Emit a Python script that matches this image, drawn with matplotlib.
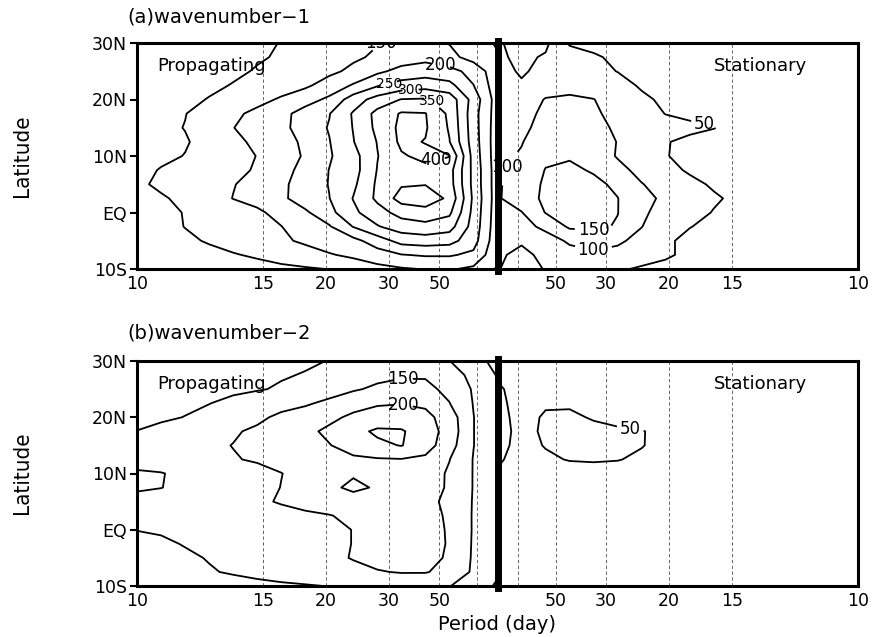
import numpy as np
import matplotlib
matplotlib.use('Agg')
import matplotlib.pyplot as plt
from matplotlib import font_manager as fm

plt.rcParams['font.family'] = ['DejaVu Sans']

F0 = 1 / 216.0  # frequency sitting on the centre line (cpd)
lat = np.array([30, 27.5, 25, 22.5, 20, 17.5, 15, 12.5, 10, 7.5, 5, 2.5, 0,
                -2.5, -5, -7.5, -10])
freq = np.linspace(F0, 0.1, 16)  # frequency bins, centre line -> 10 day

# power, rows 30N -> 10S ; propagating columns from 10-day to centre,
# stationary columns from centre to 10-day
wn1_prop = np.array([
    [65, 70, 75, 82, 88, 94, 101, 112, 124, 136, 148, 160, 158, 148, 120, 95],
    [68, 72, 78, 84, 90, 96, 104, 118, 130, 143, 157, 175, 185, 165, 130, 105],
    [70, 75, 80, 86, 93, 103, 117, 130, 140, 160, 190, 215, 225, 215, 185, 115],
    [72, 78, 85, 92, 102, 115, 128, 142, 170, 205, 245, 270, 280, 265, 201, 120],
    [75, 82, 90, 102, 116, 135, 156, 180, 210, 275, 320, 352, 355, 330, 230, 125],
    [80, 90, 99, 115, 140, 162, 185, 220, 248, 305, 365, 405, 402, 340, 220, 125],
    [82, 92, 101, 122, 149, 170, 185, 225, 253, 302, 362, 412, 405, 345, 222, 122],
    [80, 88, 97, 112, 138, 160, 183, 208, 248, 298, 352, 410, 398, 352, 225, 120],
    [85, 93, 101, 118, 135, 151, 178, 205, 245, 282, 348, 395, 412, 402, 230, 120],
    [90, 102, 115, 128, 140, 154, 183, 215, 251, 280, 352, 385, 388, 370, 235, 122],
    [92, 108, 122, 133, 148, 165, 190, 222, 252, 290, 358, 395, 398, 372, 235, 122],
    [85, 95, 110, 130, 151, 165, 190, 225, 249, 302, 360, 420, 430, 390, 240, 122],
    [78, 88, 102, 115, 128, 142, 165, 192, 235, 290, 330, 368, 380, 360, 235, 120],
    [75, 86, 101, 112, 124, 136, 149, 175, 195, 252, 296, 325, 335, 320, 230, 118],
    [70, 80, 92, 104, 116, 128, 142, 158, 175, 185, 225, 268, 275, 268, 220, 115],
    [65, 72, 80, 88, 97, 106, 118, 130, 146, 160, 178, 198, 205, 205, 190, 110],
    [60, 64, 68, 72, 78, 84, 90, 95, 101, 118, 135, 145, 152, 155, 140, 95],
])
wn1_stat = np.array([
    [95, 115, 110, 45, 38, 34, 32, 30, 30, 29, 28, 27, 26, 25, 25, 25],
    [92, 110, 95, 70, 55, 42, 38, 35, 33, 31, 30, 28, 27, 26, 25, 25],
    [85, 105, 88, 72, 62, 49, 42, 38, 35, 33, 31, 29, 28, 27, 26, 25],
    [80, 95, 92, 88, 80, 65, 45, 40, 37, 34, 32, 30, 28, 27, 26, 25],
    [80, 90, 101, 106, 101, 80, 58, 42, 38, 35, 33, 31, 29, 28, 27, 26],
    [82, 92, 105, 112, 106, 88, 66, 49, 42, 38, 35, 32, 30, 28, 27, 26],
    [85, 95, 108, 115, 110, 95, 78, 65, 58, 51, 42, 36, 32, 30, 28, 27],
    [90, 99, 112, 120, 115, 99, 75, 52, 42, 38, 35, 33, 31, 29, 28, 27],
    [95, 102, 140, 145, 130, 96, 72, 51, 44, 40, 37, 34, 32, 30, 28, 27],
    [95, 110, 152, 160, 145, 115, 85, 62, 45, 40, 37, 34, 32, 30, 28, 27],
    [95, 120, 158, 170, 162, 140, 102, 80, 60, 45, 38, 35, 32, 30, 28, 27],
    [95, 125, 160, 175, 170, 151, 115, 90, 70, 55, 42, 36, 33, 30, 28, 27],
    [96, 98, 152, 170, 168, 151, 108, 82, 64, 48, 40, 35, 32, 30, 28, 27],
    [95, 88, 108, 158, 160, 146, 101, 70, 51, 42, 37, 34, 31, 29, 28, 27],
    [98, 96, 85, 105, 118, 108, 85, 55, 42, 38, 35, 32, 30, 29, 28, 27],
    [95, 108, 92, 88, 92, 85, 68, 55, 42, 38, 35, 32, 30, 28, 27, 26],
    [98, 115, 98, 80, 65, 55, 45, 40, 37, 35, 33, 31, 29, 28, 27, 26],
])
wn2_prop = np.array([
    [60, 65, 70, 75, 80, 85, 90, 95, 101, 110, 120, 128, 128, 101, 62, 40],
    [62, 68, 74, 80, 86, 92, 97, 102, 112, 125, 138, 145, 146, 125, 85, 47],
    [65, 72, 80, 86, 92, 97, 104, 115, 130, 145, 158, 165, 160, 140, 95, 55],
    [72, 82, 92, 99, 110, 122, 133, 144, 160, 180, 195, 198, 190, 151, 98, 58],
    [85, 93, 101, 112, 125, 140, 160, 172, 188, 210, 220, 222, 215, 175, 101, 60],
    [101, 112, 122, 133, 145, 158, 172, 188, 210, 235, 258, 255, 225, 180, 101, 60],
    [108, 118, 130, 142, 151, 160, 170, 182, 198, 220, 240, 252, 222, 170, 101, 62],
    [120, 128, 134, 140, 147, 155, 165, 175, 185, 192, 196, 198, 190, 151, 98, 62],
    [160, 152, 140, 132, 128, 135, 149, 165, 180, 195, 190, 180, 170, 145, 98, 62],
    [158, 151, 138, 125, 122, 132, 151, 172, 190, 210, 195, 180, 168, 145, 98, 62],
    [130, 128, 125, 120, 125, 140, 155, 168, 175, 178, 175, 168, 160, 142, 97, 62],
    [115, 115, 115, 113, 116, 122, 130, 140, 148, 160, 165, 165, 160, 146, 96, 62],
    [101, 104, 108, 111, 114, 118, 124, 132, 140, 151, 158, 160, 158, 148, 96, 62],
    [88, 94, 102, 106, 110, 115, 122, 130, 140, 151, 160, 162, 160, 148, 95, 62],
    [78, 85, 94, 102, 108, 114, 122, 130, 142, 152, 160, 162, 160, 146, 94, 60],
    [70, 76, 84, 97, 104, 110, 116, 122, 130, 140, 148, 152, 152, 140, 92, 55],
    [62, 66, 72, 78, 84, 90, 94, 97, 101, 110, 120, 125, 122, 102, 70, 45],
])
wn2_stat = np.array([
    [42, 38, 35, 33, 31, 30, 29, 28, 27, 26, 25, 25, 24, 24, 23, 23],
    [47, 40, 36, 35, 33, 31, 30, 29, 28, 27, 26, 25, 24, 24, 23, 23],
    [53, 42, 40, 38, 36, 34, 32, 30, 29, 28, 27, 26, 25, 24, 24, 23],
    [54, 44, 48, 47, 42, 38, 36, 34, 32, 30, 28, 27, 26, 25, 24, 24],
    [56, 44, 52, 54, 48, 42, 38, 35, 33, 31, 29, 28, 27, 26, 25, 24],
    [58, 44, 53, 57, 56, 54, 51, 44, 40, 36, 32, 30, 28, 27, 26, 25],
    [56, 44, 51, 56, 56, 55, 51, 43, 38, 35, 32, 30, 28, 27, 26, 25],
    [53, 42, 47, 51, 52, 51, 46, 40, 36, 33, 31, 29, 28, 27, 26, 25],
    [48, 40, 40, 42, 42, 40, 38, 36, 34, 32, 30, 29, 28, 27, 26, 25],
    [45, 39, 38, 38, 37, 36, 35, 34, 33, 31, 30, 29, 28, 27, 26, 25],
    [44, 38, 37, 36, 35, 34, 33, 32, 31, 30, 29, 28, 27, 26, 25, 25],
    [43, 37, 36, 35, 34, 33, 32, 31, 30, 29, 28, 27, 26, 25, 25, 24],
    [42, 36, 35, 34, 33, 32, 31, 30, 29, 28, 27, 26, 25, 25, 24, 24],
    [42, 36, 34, 33, 32, 31, 30, 29, 28, 27, 26, 25, 25, 24, 24, 23],
    [43, 36, 34, 32, 31, 30, 29, 28, 27, 26, 25, 25, 24, 24, 23, 23],
    [44, 37, 34, 32, 30, 29, 28, 27, 26, 25, 25, 24, 24, 23, 23, 22],
    [46, 38, 35, 32, 30, 29, 28, 27, 26, 25, 24, 24, 23, 23, 22, 22],
])

levels = [50, 100, 150, 200, 250, 300, 350, 400, 450]
period_ticks = [10, 15, 20, 30, 50]
period_dash = [100, 50, 30, 20, 15]
lat_ticks = [30, 20, 10, 0, -10]
lat_labels = ['30N', '20N', '10N', 'EQ', '10S']

# contour labels: (level, x in shifted frequency, latitude, font size)
labels_a = [(150, -0.0257, 29.2, 12), (200, -0.0151, 25.6, 12),
            (250, -0.0288, 23.3, 10), (300, -0.0230, 21.9, 10),
            (350, -0.0172, 20.1, 10), (400, -0.0164, 9.2, 12),
            (100, 0.0048, 7.0, 12), (50, 0.0550, 16.4, 12),
            (150, 0.0254, -3.1, 12), (100, 0.0254, -6.6, 12)]
labels_b = [(150, -0.0249, 27.0, 12), (200, -0.0249, 22.2, 12),
            (50, 0.0352, 18.3, 12)]


def xpos(period, side):
    return side * (1.0 / period - F0)


def draw_side(ax, x, z, labels, side):
    for lev in levels:
        if not (z.min() < lev < z.max()):
            continue
        cs = ax.contour(x, lat, z, levels=[lev], colors='k', linewidths=1.3, zorder=3)
        for lv, lx, ly, fs in labels:
            if lv != lev or np.sign(lx) != side:
                continue
            ax.clabel(cs, manual=[(lx, ly)], inline=True, fmt='%d', fontsize=fs,
                      inline_spacing=3)
        for t in cs.labelTexts:
            t.set_rotation(0)
            t.set_clip_on(True)


def draw_panel(ax, prop, stat, labels):
    draw_side(ax, -(freq[::-1] - F0), prop, labels, -1)
    draw_side(ax, freq - F0, stat, labels, 1)
    for p in period_dash:
        for s in (-1, 1):
            ax.axvline(xpos(p, s), color='0.3', lw=0.6, ls=(0, (4, 3)), zorder=1)
    ax.axvline(0, color='k', lw=5, zorder=4, ymin=-0.01, ymax=1.01, clip_on=False)
    xmax = 0.1 - F0
    ax.set_xlim(-xmax, xmax)
    ax.set_ylim(-10, 30)
    tpos = [xpos(p, -1) for p in period_ticks] + [xpos(p, 1) for p in period_ticks[::-1]]
    tlab = [str(p) for p in period_ticks] + [str(p) for p in period_ticks[::-1]]
    ax.set_xticks(tpos)
    ax.set_xticklabels(tlab, fontsize=12.5)
    ax.tick_params(axis='x', length=0, pad=4)
    ax.set_yticks(lat_ticks)
    ax.set_yticklabels(lat_labels, fontsize=12.5)
    ax.tick_params(axis='y', length=5, width=1.5, pad=2)
    for sp in ax.spines.values():
        sp.set_linewidth(2.2)
    ax.text(0.028, 0.90, 'Propagating', transform=ax.transAxes, fontsize=13,
            va='center', ha='left')
    ax.text(0.80, 0.90, 'Stationary', transform=ax.transAxes, fontsize=13,
            va='center', ha='left')


fig = plt.figure(figsize=(8.75, 6.37), dpi=100)
ax1 = fig.add_axes([137 / 875, 1 - 269 / 637, 721 / 875, 226 / 637])
ax2 = fig.add_axes([137 / 875, 1 - 586 / 637, 721 / 875, 225 / 637])

draw_panel(ax1, wn1_prop, wn1_stat, labels_a)
draw_panel(ax2, wn2_prop, wn2_stat, labels_b)

fig.text(127 / 875, 1 - 17 / 637, '(a)wavenumber\u22121', fontsize=14, va='center')
fig.text(127 / 875, 1 - 333 / 637, '(b)wavenumber\u22122', fontsize=14, va='center')
fig.text(497 / 875, 1 - 625 / 637, 'Period (day)', fontsize=14, ha='center', va='center')

names = {f.name for f in fm.fontManager.ttflist}
if 'Liberation Sans Narrow' in names:
    lat_font = dict(family='Liberation Sans Narrow', size=19)
else:
    lat_font = dict(family='DejaVu Sans', stretch='condensed', size=16)
for yc in (156, 473):
    fig.text(22 / 875, 1 - yc / 637, 'Latitude', rotation=90,
             ha='center', va='center', **lat_font)

fig.savefig('out.png', dpi=100)
